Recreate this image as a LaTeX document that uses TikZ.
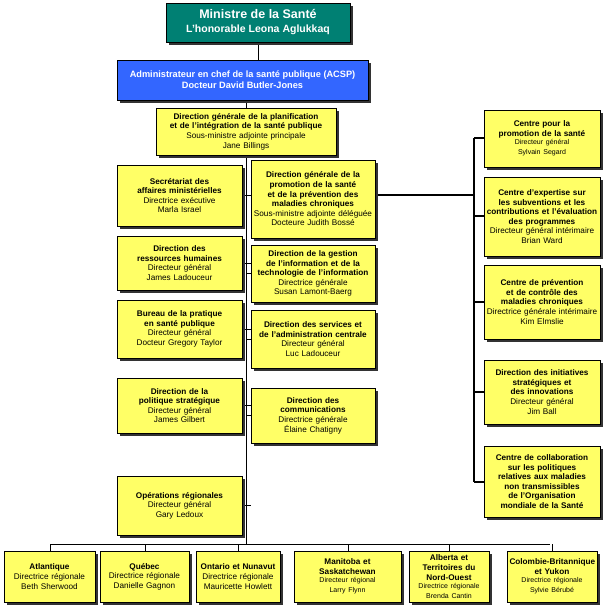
\documentclass[tikz,border=0pt]{standalone}
\usepackage{fontspec}
\setmainfont{Liberation Sans}
\usetikzlibrary{shadows}
\definecolor{boxy}{RGB}{255,255,102}
\definecolor{teal1}{RGB}{0,128,115}
\definecolor{blue1}{RGB}{51,102,255}
\begin{document}
\hyphenpenalty=10000 \exhyphenpenalty=10000
\begin{tikzpicture}[x=1pt,y=-1pt,
  bx/.style={draw=black,line width=0.6pt,fill=boxy,align=center,inner sep=1pt,
    font=\fontsize{8.2}{9.6}\selectfont,
    drop shadow={shadow xshift=2.5pt,shadow yshift=-2.5pt,fill=black!80,opacity=1}},
  ln/.style={line width=0.6pt},
  tk/.style={line width=2pt}]
\useasboundingbox[fill=white] (0,0) rectangle (605,606);
\newcommand\B[6]{\node[bx,#6,minimum width=#3-#1,minimum height=#4-#2,text width=#3-#1-5] (#5) at ({(#1+#3)/2},{(#2+#4)/2}) }
\newcommand\Sm{\fontsize{7}{8.4}\selectfont}
% lines first
\coordinate (vt) at (246,100);
\coordinate (vb) at (246,544);
\draw[ln] (258,42) -- (258,60);
\draw[ln] (246,100) -- (246,108);
\draw[ln] (vt) -- (vb);
\draw[ln] (50,544) -- (550,544);
\foreach \x in {50,145,238,348,449,552} \draw[ln] (\x,544) -- (\x,551);
\draw[tk] (375,195) -- (474,195);
\draw[tk] (474,138) -- (474,482);
\foreach \y in {138,216,302,392,482} \draw[tk] (474,\y) -- (484,\y);
\foreach \y in {195,263,329,405,505} \draw[ln] (242,\y) -- (251,\y);
\foreach \y in {273,339,415} \draw[ln] (246,\y) -- (251,\y);
% top
\node[draw=black,line width=0.6pt,fill=teal1,text=white,align=center,minimum width=184,minimum height=39,
  font=\bfseries\fontsize{12.5}{14}\selectfont,drop shadow={shadow xshift=2.5pt,shadow yshift=-2.5pt,fill=black!80,opacity=1}]
  (min) at (258,22.5) {Ministre de la Santé\\{\fontsize{10.5}{12}\selectfont L’honorable Leona Aglukkaq}};
\node[draw=black,line width=0.6pt,fill=blue1,text=white,align=center,minimum width=251,minimum height=40,
  font=\bfseries\fontsize{9.2}{11}\selectfont,drop shadow={shadow xshift=2.5pt,shadow yshift=-2.5pt,fill=black!80,opacity=1}]
  (acsp) at (242.5,80) {Administrateur en chef de la santé publique (ACSP)\\Docteur David Butler-Jones};
\B{156}{108}{336}{155}{plan}{}{\textbf{Direction générale de la planification et de l’intégration de la santé publique}\\Sous-ministre adjointe principale\\Jane Billings};
% left column
\B{117}{165}{242}{226}{sec}{}{\textbf{Secrétariat des affaires ministérielles}\\Directrice exécutive\\Marla Israel};
\B{117}{236}{242}{290}{rh}{}{\textbf{Direction des ressources humaines}\\Directeur général\\James Ladouceur};
\B{117}{300}{242}{358}{bur}{}{\textbf{Bureau de la pratique en santé publique}\\Directeur général\\Docteur Gregory Taylor};
\B{117}{378}{242}{433}{pol}{}{\textbf{Direction de la politique stratégique}\\Directeur général\\James Gilbert};
\B{117}{476}{242}{535}{ops}{}{\textbf{Opérations régionales}\\Directeur général\\Gary Ledoux};
% middle column
\B{251}{160}{375}{238}{pro}{}{\textbf{Direction générale de la promotion de la santé et de la prévention des maladies chroniques}\\Sous-ministre adjointe déléguée\\Docteure Judith Bossé};
\B{251}{245}{375}{302}{gi}{}{\textbf{Direction de la gestion de l’information et de la technologie de l’information}\\Directrice générale\\Susan Lamont-Baerg};
\B{251}{310}{375}{368}{serv}{}{\textbf{Direction des services et de l’administration centrale}\\Directeur général\\Luc Ladouceur};
\B{251}{388}{375}{443}{com}{}{\textbf{Direction des communications}\\Directrice générale\\Élaine Chatigny};
% right column
\B{484}{110}{600}{167}{c1}{}{\textbf{Centre pour la promotion de la santé}\\{\Sm Directeur général\\Sylvain Segard}};
\B{484}{177}{600}{256}{c2}{}{\textbf{Centre d’expertise sur les subventions et les contributions et l’évaluation des programmes}\\Directeur général intérimaire\\Brian Ward};
\B{484}{265}{600}{339}{c3}{}{\textbf{Centre de prévention et de contrôle des maladies chroniques}\\Directrice générale intérimaire\\Kim Elmslie};
\B{484}{360}{600}{424}{c4}{}{\textbf{Direction des initiatives stratégiques et des innovations}\\Directeur général\\Jim Ball};
\B{484}{446}{600}{517}{c5}{}{\textbf{Centre de collaboration sur les politiques relatives aux maladies non transmissibles de l’Organisation mondiale de la Santé}};
% bottom row
\B{4}{551}{95}{602}{r1}{}{\textbf{Atlantique}\\Directrice régionale\\Beth Sherwood};
\B{100}{551}{189}{602}{r2}{}{\textbf{Québec}\\Directrice régionale\\Danielle Gagnon};
\B{196}{551}{280}{602}{r3}{}{\textbf{Ontario et Nunavut}\\Directrice régionale\\Mauricette Howlett};
\B{294}{551}{401}{602}{r4}{}{\textbf{Manitoba et Saskatchewan}\\{\Sm Directeur régional\\Larry Flynn}};
\B{409}{551}{489}{602}{r5}{}{\textbf{Alberta et Territoires du Nord-Ouest}\\{\Sm Directrice régionale\\Brenda Cantin}};
\B{507}{551}{597}{602}{r6}{}{\textbf{Colombie-Britannique et Yukon}\\{\Sm Directrice régionale\\Sylvie Bérubé}};
\end{tikzpicture}
\end{document}
